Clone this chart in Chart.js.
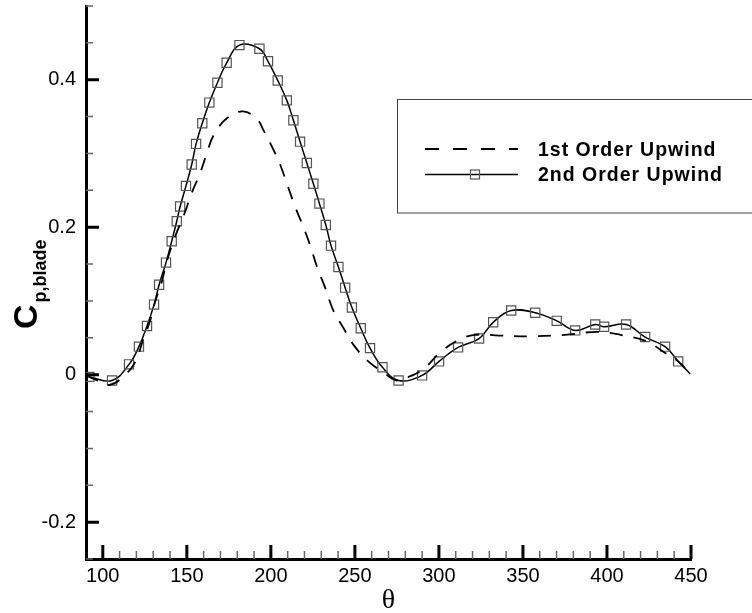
<!DOCTYPE html>
<html>
<head>
<meta charset="utf-8">
<script src="https://cdn.jsdelivr.net/npm/chart.js@4.4.1/dist/chart.umd.min.js"></script>
<style>
  html, body { margin: 0; padding: 0; background: #fff; }
  canvas { display: block; }
</style>
</head>
<body>
<canvas id="cp" width="752" height="613"></canvas>
<script>
// blade pressure coefficient vs. azimuth, two discretisation schemes
const theta1st = [90, 97, 104, 112, 119, 124, 128, 131, 135, 138, 143, 149, 153, 158, 162,
  166, 174, 183.5, 192, 195.5, 200.7, 205.5, 210.2, 214.4, 219.2, 223.3, 227.5, 232.3, 237, 243,
  250, 258, 267, 275, 281, 290.5, 300.7, 310.8, 321.5, 336, 354, 375, 394, 408, 424,
  433.5, 442.4, 449.5];
const cp1st = [-0.001, -0.008, -0.014, -0.003, 0.016, 0.047, 0.072, 0.098, 0.125, 0.153, 0.187, 0.221, 0.247, 0.274, 0.301,
  0.325, 0.348, 0.357, 0.346, 0.332, 0.309, 0.285, 0.255, 0.228, 0.201, 0.176, 0.146, 0.118, 0.088, 0.064,
  0.038, 0.018, 0.003, -0.008, -0.004, 0.007, 0.030, 0.046, 0.054, 0.053, 0.052, 0.054, 0.058, 0.054, 0.045,
  0.031, 0.018, 0.001];

const theta2nd = [92, 105.5, 115.6, 121.5, 126.3, 130.5, 133.5, 137.6, 141.0, 144.0,
  146.0, 149.5, 152.9, 155.5, 159.2, 163.4, 168.2, 173.7, 181.3, 193.2,
  198.3, 204.1, 209.5, 213.4, 217.4, 221.4, 225.3, 228.9, 232.7, 235.8,
  240.2, 244.2, 248.2, 253.5, 259.0, 266.4, 276.0, 290.0, 300.1, 311.4,
  323.9, 332.3, 343.0, 357.3, 370.1, 381.1, 393.0, 398.3, 411.4, 422.7,
  434.6, 442.4, 449.5];
const cp2nd = [-0.003, -0.008, 0.014, 0.038, 0.066, 0.095, 0.122, 0.152, 0.181, 0.208,
  0.228, 0.256, 0.285, 0.313, 0.341, 0.369, 0.396, 0.423, 0.447, 0.442,
  0.425, 0.399, 0.372, 0.345, 0.316, 0.287, 0.259, 0.232, 0.203, 0.175,
  0.146, 0.118, 0.091, 0.063, 0.036, 0.010, -0.008, -0.001, 0.018, 0.037,
  0.049, 0.071, 0.087, 0.084, 0.073, 0.060, 0.068, 0.065, 0.068, 0.051,
  0.038, 0.018, 0.001];

const seriesNames = ['1st Order Upwind', '2nd Order Upwind'];
const xTicks = [100, 150, 200, 250, 300, 350, 400, 450];
const yTicks = [-0.2, 0, 0.2, 0.4];

const SANS = '"Liberation Sans", Arial, sans-serif';
const DASH = [13, 11];

// tecplot-style inward ticks (major + minor) drawn on the library scales
function drawInnerTicks(chart) {
  const { ctx, scales: { x, y }, chartArea: a } = chart;
  ctx.save();
  ctx.lineCap = 'butt';
  // minor
  ctx.strokeStyle = '#666';
  ctx.lineWidth = 1.5;
  ctx.beginPath();
  for (let v = 100; v < 450; v += 10) {
    if (v % 50 === 0) continue;
    const px = x.getPixelForValue(v);
    ctx.moveTo(px, a.bottom); ctx.lineTo(px, a.bottom - 8);
  }
  for (let k = -5; k <= 10; k++) {
    const v = k * 0.05;
    if (k % 4 === 0) continue;
    const py = y.getPixelForValue(v);
    ctx.moveTo(a.left, py); ctx.lineTo(a.left + 7, py);
  }
  ctx.stroke();
  // major
  ctx.strokeStyle = '#000';
  ctx.lineWidth = 3;
  ctx.beginPath();
  xTicks.forEach(v => {
    const px = x.getPixelForValue(v);
    ctx.moveTo(px, a.bottom); ctx.lineTo(px, a.bottom - 14);
  });
  yTicks.forEach(v => {
    const py = y.getPixelForValue(v);
    ctx.moveTo(a.left, py); ctx.lineTo(a.left + 13, py);
  });
  ctx.stroke();
  ctx.restore();
}

function drawYTitle(ctx) {
  ctx.save();
  ctx.translate(37, 329);
  ctx.rotate(-Math.PI / 2);
  ctx.fillStyle = '#000';
  ctx.textBaseline = 'alphabetic';
  ctx.textAlign = 'left';
  ctx.font = 'bold 34px ' + SANS;
  ctx.fillText('C', 0, 0);
  const w = ctx.measureText('C').width;
  ctx.font = 'bold 18px ' + SANS;
  ctx.fillText('p,blade', w + 2, 9);
  ctx.restore();
}

function drawKey(chart) {
  const ctx = chart.ctx;
  const ds = chart.data.datasets;
  ctx.save();
  ctx.strokeStyle = '#444';
  ctx.lineWidth = 1;
  ctx.strokeRect(397.5, 99.5, 360, 113.5);

  const rows = [149, 174.5];
  ctx.font = 'bold 19.5px ' + SANS;
  ctx.letterSpacing = '1px';
  ctx.fillStyle = '#000';
  ctx.textBaseline = 'alphabetic';
  rows.forEach((ry, i) => {
    const d = ds[i];
    ctx.strokeStyle = d.borderColor;
    ctx.lineWidth = d.borderWidth;
    ctx.setLineDash(i === 0 ? [14, 14] : []);
    ctx.beginPath();
    ctx.moveTo(425, ry); ctx.lineTo(518, ry);
    ctx.stroke();
    ctx.setLineDash([]);
    if (i === 1) {
      ctx.strokeStyle = d.pointBorderColor;
      ctx.lineWidth = d.pointBorderWidth;
      ctx.strokeRect(470.5, ry - 4.5, 9, 9);
    }
    ctx.fillText(d.label, 538, ry + 6.5);
  });
  ctx.restore();
}

const decor = {
  id: 'decor',
  afterDraw(chart) {
    drawInnerTicks(chart);
    drawYTitle(chart.ctx);
    drawKey(chart);
  }
};

new Chart(document.getElementById('cp'), {
  type: 'line',
  data: {
    datasets: [
      {
        label: seriesNames[0],
        data: theta1st.map((t, i) => ({ x: t, y: cp1st[i] })),
        borderColor: '#000',
        borderWidth: 1.8,
        borderDash: DASH,
        pointRadius: 0,
        tension: 0.4,
        fill: false
      },
      {
        label: seriesNames[1],
        data: theta2nd.map((t, i) => ({ x: t, y: cp2nd[i] })),
        borderColor: '#000',
        borderWidth: 1.5,
        pointStyle: 'rect',
        pointRadius: c => (c.dataIndex === theta2nd.length - 1 ? 0 : 6.5),
        pointBorderColor: '#555',
        pointBorderWidth: 1.2,
        pointBackgroundColor: 'rgba(0,0,0,0)',
        tension: 0.4,
        fill: false
      }
    ]
  },
  options: {
    responsive: false,
    animation: false,
    events: [],
    layout: { autoPadding: false, padding: { top: 6, right: 61, left: 0, bottom: 0 } },
    plugins: { legend: { display: false }, tooltip: { enabled: false } },
    scales: {
      x: {
        type: 'linear',
        min: 90,
        max: 450,
        afterBuildTicks: s => { s.ticks = xTicks.map(v => ({ value: v })); },
        afterFit: s => { s.height = 54; s.paddingLeft = 0; s.paddingRight = 0; },
        grid: { display: false, drawTicks: false },
        border: { display: true, color: '#000', width: 3 },
        ticks: { color: '#000', padding: 5, maxRotation: 0, font: { family: SANS, size: 20 } },
        title: {
          display: true,
          text: 'θ',
          color: '#000',
          padding: { top: 0, bottom: 0 },
          font: { family: '"Liberation Serif", "Times New Roman", serif', size: 28, lineHeight: 0.85 }
        }
      },
      y: {
        type: 'linear',
        min: -0.25,
        max: 0.5,
        afterBuildTicks: s => { s.ticks = yTicks.map(v => ({ value: v })); },
        afterFit: s => { s.width = 86; s.paddingTop = 0; s.paddingBottom = 0; },
        grid: { display: false, drawTicks: false },
        border: { display: true, color: '#000', width: 3 },
        ticks: {
          color: '#000',
          padding: 10,
          font: { family: SANS, size: 20 },
          callback: v => (v === 0 ? '0' : v.toFixed(1))
        }
      }
    }
  },
  plugins: [decor]
});
</script>
</body>
</html>
